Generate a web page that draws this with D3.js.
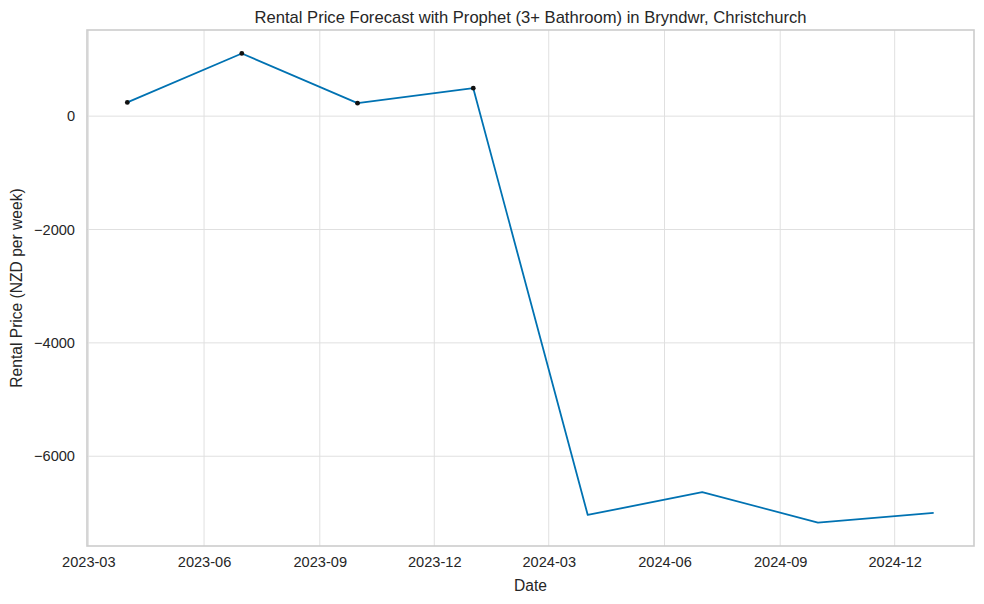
<!DOCTYPE html>
<html><head><meta charset="utf-8">
<script src="https://cdn.jsdelivr.net/npm/d3@7"></script>
<style>body{margin:0;background:#fff;} svg{display:block;} text{font-family:"Liberation Sans",Arial,sans-serif;fill:#262626;}</style>
</head><body>
<svg id="c" width="984" height="604"></svg>
<script>
const histDates = ["2023-04-01","2023-07-01","2023-10-01","2024-01-01"];
const histValues = [242, 1106, 229, 494];
const fcDates = ["2023-04-01","2023-07-01","2023-10-01","2024-01-01","2024-04-01","2024-07-01","2024-10-01","2025-01-01"];
const fcValues = [242, 1106, 229, 494, -7036, -6635, -7170, -7000];
const xTickLabels = ["2023-03","2023-06","2023-09","2023-12","2024-03","2024-06","2024-09","2024-12"];
const yTickValues = [0, -2000, -4000, -6000];
const titleText = "Rental Price Forecast with Prophet (3+ Bathroom) in Bryndwr, Christchurch";

const parse = d3.utcParse("%Y-%m-%d");
const parseM = d3.utcParse("%Y-%m");
const svg = d3.select("#c");
const L = 87, R = 974, T = 30, B = 546;

const allD = fcDates.map(parse);
const d0 = d3.min(allD), d1 = d3.max(allD);
const span = d1 - d0;
const x = d3.scaleUtc().domain([new Date(+d0 - span*0.05), new Date(+d1 + span*0.05)]).range([L, R]);
const vmin = d3.min(fcValues), vmax = d3.max(fcValues), vs = vmax - vmin;
const y = d3.scaleLinear().domain([vmin - vs*0.05, vmax + vs*0.05]).range([B, T]);

const xTicks = xTickLabels.map(parseM);
// grid
const g = svg.append("g");
g.selectAll(".gx").data(xTicks).join("line")
  .attr("x1", d=>x(d)).attr("x2", d=>x(d)).attr("y1", T).attr("y2", B)
  .attr("stroke", "#e0e0e0").attr("stroke-width", 1);
g.selectAll(".gy").data(yTickValues).join("line")
  .attr("x1", L).attr("x2", R).attr("y1", d=>y(d)).attr("y2", d=>y(d))
  .attr("stroke", "#e0e0e0").attr("stroke-width", 1);

// axes via d3
const xAxis = d3.axisBottom(x).tickValues(xTicks).tickFormat(d3.utcFormat("%Y-%m")).tickSize(0).tickPadding(11);
const yAxis = d3.axisLeft(y).tickValues(yTickValues).tickFormat(d => d < 0 ? "\u2212" + Math.abs(d) : String(d)).tickSize(0).tickPadding(12);
const gx = svg.append("g").attr("transform", `translate(0,${B})`).call(xAxis);
const gy = svg.append("g").attr("transform", `translate(${L},0)`).call(yAxis);
[gx, gy].forEach(a => { a.select(".domain").remove(); a.selectAll("text").attr("font-size", 14.6).attr("fill", "#262626"); });

// line
const line = d3.line().x((d,i)=>x(parse(fcDates[i]))).y(d=>y(d));
svg.append("path").datum(fcValues).attr("d", line).attr("fill", "none")
  .attr("stroke", "#0072B2").attr("stroke-width", 1.8).attr("stroke-linejoin", "round");
// points
svg.selectAll(".pt").data(histValues).join("circle")
  .attr("cx", (d,i)=>x(parse(histDates[i]))).attr("cy", d=>y(d)).attr("r", 2.4).attr("fill", "#111");

// frame
svg.append("rect").attr("x", L).attr("y", T).attr("width", R-L).attr("height", B-T)
  .attr("fill", "none").attr("stroke", "#cccccc").attr("stroke-width", 1.6);

// labels
svg.append("text").attr("x", (L+R)/2).attr("y", 22.5).attr("text-anchor", "middle").attr("font-size", 16.6).text(titleText);
svg.append("text").attr("x", (L+R)/2).attr("y", 591).attr("text-anchor", "middle").attr("font-size", 15.6).text("Date");
svg.append("text").attr("transform", `translate(22,${(T+B)/2}) rotate(-90)`).attr("text-anchor", "middle").attr("font-size", 15.6).text("Rental Price (NZD per week)");
</script>
</body></html>
